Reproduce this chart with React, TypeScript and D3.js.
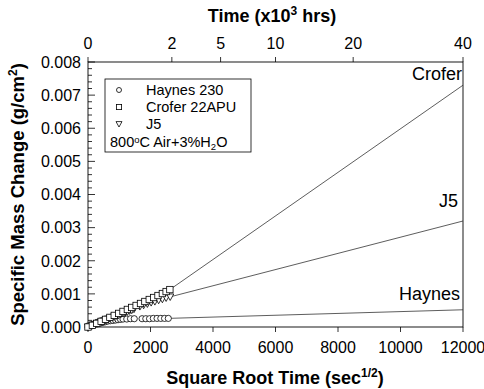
import React from "react";
import * as d3 from "d3";

// ---- data (x in sec^1/2, y in g/cm^2) ----
const haynesX = [0, 80, 160, 240, 320, 400, 480, 560, 640, 720, 800, 880, 960, 1040, 1120, 1240, 1360, 1480, 1730, 1850, 1970, 2090, 2210, 2330, 2450, 2570];
const haynesY = [0, 0.00002, 0.00005, 0.00008, 0.0001, 0.00012, 0.00014, 0.00016, 0.00018, 0.00019, 0.0002, 0.00021, 0.00022, 0.00023, 0.00024, 0.00024, 0.00025, 0.00025, 0.00025, 0.00025, 0.00025, 0.00026, 0.00026, 0.00026, 0.00026, 0.00026];
const croferX = [0, 140, 280, 420, 560, 700, 840, 980, 1120, 1260, 1400, 1540, 1680, 1820, 1960, 2100, 2240, 2380, 2500, 2620];
const croferY = [0, 0.00005, 0.00011, 0.00017, 0.00023, 0.00029, 0.00035, 0.00041, 0.00047, 0.00053, 0.00059, 0.00065, 0.00071, 0.00077, 0.00083, 0.00089, 0.00095, 0.00101, 0.00107, 0.00113];
const j5X = [0, 70, 140, 210, 280, 350, 420, 490, 560, 630, 700, 770, 840, 910, 980, 1050, 1120, 1190, 1260, 1330, 1400, 1470, 1660, 1780, 1900, 2020, 2140, 2260, 2380, 2500, 2630];
const j5Y = [0, 0.00003, 0.00006, 0.00008, 0.00011, 0.00014, 0.00016, 0.00019, 0.00021, 0.00024, 0.00026, 0.00029, 0.00031, 0.00034, 0.00036, 0.00039, 0.00041, 0.00044, 0.00046, 0.00049, 0.00051, 0.00054, 0.00062, 0.00066, 0.0007, 0.00074, 0.00077, 0.00081, 0.00084, 0.00088, 0.00091];

// fit-line end points: x and y at the start / end
const haynesFitX = [2570, 12000];
const haynesFitY = [0.00026, 0.00052];
const croferFitX = [2620, 12000];
const croferFitY = [0.00113, 0.0073];
const j5FitX = [2630, 12000];
const j5FitY = [0.00091, 0.0032];

const xTicks = [0, 2000, 4000, 6000, 8000, 10000, 12000];
const yTicks = [0, 0.001, 0.002, 0.003, 0.004, 0.005, 0.006, 0.007, 0.008];
const topTicksHrs = [0, 2, 5, 10, 20, 40]; // x10^3 hrs

const W = 484, H = 389;
const M = { left: 88, right: 463, top: 62, bottom: 327 };
const FONT = "'Liberation Sans', Arial, sans-serif";

export default function App() {
  const x = d3.scaleLinear().domain([0, 12000]).range([M.left, M.right]);
  const y = d3.scaleLinear().domain([0, 0.008]).range([M.bottom, M.top]);
  const hrsToX = (h: number) => x(Math.sqrt(h * 1000 * 3600));
  const minorY = d3.range(0, 41).map(i => i * 0.0002);
  const line = d3.line<[number, number]>().x(d => x(d[0])).y(d => y(d[1]));
  const fit = (xs: number[], ys: number[]) => line(xs.map((v, i) => [v, ys[i]] as [number, number])) || "";

  const circle = (cx: number, cy: number, k: string, r = 3.1) => (
    <circle key={k} cx={cx} cy={cy} r={r} fill="white" stroke="black" strokeWidth={0.8} />
  );
  const square = (cx: number, cy: number, k: string, s = 3.2) => (
    <rect key={k} x={cx - s} y={cy - s} width={2 * s} height={2 * s} fill="white" stroke="black" strokeWidth={0.8} />
  );
  const tri = (cx: number, cy: number, k: string, s = 3.6) => (
    <path key={k} d={`M${cx - s},${cy - s * 0.8} L${cx + s},${cy - s * 0.8} L${cx},${cy + s} Z`} fill="white" stroke="black" strokeWidth={0.8} />
  );

  return (
    <svg width={W} height={H} style={{ position: "absolute", left: 0, top: 0, background: "white" }} fontFamily={FONT}>
      <rect x={0} y={0} width={W} height={H} fill="white" />
      {/* frame */}
      <rect x={M.left} y={M.top} width={M.right - M.left} height={M.bottom - M.top} fill="none" stroke="black" strokeWidth={0.9} />
      {/* left ticks (inward) */}
      {minorY.map((v, i) => (
        <line key={"my" + i} x1={M.left} x2={M.left + (i % 5 === 0 ? 7 : 4)} y1={y(v)} y2={y(v)} stroke="black" strokeWidth={0.8} />
      ))}
      {yTicks.map((v, i) => (
        <text key={"yt" + i} x={M.left - 7} y={y(v)} dy="0.36em" textAnchor="end" fontSize={16}>{v.toFixed(3)}</text>
      ))}
      {/* bottom ticks (outward) */}
      {xTicks.map((v, i) => (
        <g key={"xt" + i}>
          <line x1={x(v)} x2={x(v)} y1={M.bottom} y2={M.bottom + 5} stroke="black" strokeWidth={0.8} />
          <text x={x(v)} y={M.bottom + 26} textAnchor="middle" fontSize={16}>{v}</text>
        </g>
      ))}
      {/* top ticks (outward) */}
      {topTicksHrs.map((h, i) => (
        <g key={"tt" + i}>
          <line x1={hrsToX(h)} x2={hrsToX(h)} y1={M.top} y2={M.top - 5} stroke="black" strokeWidth={0.8} />
          <text x={hrsToX(h)} y={M.top - 13} textAnchor="middle" fontSize={16}>{h}</text>
        </g>
      ))}
      {/* titles */}
      <text x={272} y={21.5} textAnchor="middle" fontSize={18} fontWeight="bold">
        Time (x10<tspan dy={-7} fontSize={12}>3</tspan><tspan dy={7}> hrs)</tspan>
      </text>
      <text x={275} y={384} textAnchor="middle" fontSize={18} fontWeight="bold">
        Square Root Time (sec<tspan dy={-7} fontSize={12}>1/2</tspan><tspan dy={7}>)</tspan>
      </text>
      <text transform={`translate(24,${(M.top + M.bottom) / 2}) rotate(-90)`} textAnchor="middle" fontSize={18.5} fontWeight="bold">
        Specific Mass Change (g/cm<tspan dy={-7} fontSize={12}>2</tspan><tspan dy={7}>)</tspan>
      </text>
      {/* fit lines */}
      <path d={fit(haynesFitX, haynesFitY)} fill="none" stroke="#333" strokeWidth={0.8} />
      <path d={fit(croferFitX, croferFitY)} fill="none" stroke="#333" strokeWidth={0.8} />
      <path d={fit(j5FitX, j5FitY)} fill="none" stroke="#333" strokeWidth={0.8} />
      {/* markers */}
      {haynesX.map((v, i) => circle(x(v), y(haynesY[i]), "h" + i))}
      {j5X.map((v, i) => tri(x(v), y(j5Y[i]), "j" + i))}
      {croferX.map((v, i) => square(x(v), y(croferY[i]), "c" + i))}
      {/* line labels */}
      <text x={M.right - 1} y={79.5} textAnchor="end" fontSize={18}>Crofer</text>
      <text x={M.right - 5} y={207} textAnchor="end" fontSize={18}>J5</text>
      <text x={M.right - 3} y={299.5} textAnchor="end" fontSize={18}>Haynes</text>
      {/* legend */}
      <rect x={105} y={79} width={146} height={73} fill="white" stroke="black" strokeWidth={0.8} />
      {circle(119, 90, "lc", 2.5)}
      {square(119, 107, "ls", 2.6)}
      {tri(119, 124, "lt", 3)}
      <text x={146} y={90} dy="0.36em" fontSize={14.5}>Haynes 230</text>
      <text x={146} y={107} dy="0.36em" fontSize={14.5}>Crofer 22APU</text>
      <text x={146} y={124} dy="0.36em" fontSize={14.5}>J5</text>
      <text x={110} y={142} dy="0.36em" fontSize={14.5}>800<tspan dy={-4} fontSize={9.5}>o</tspan><tspan dy={4}>C Air+3%H</tspan><tspan dy={3} fontSize={9.5}>2</tspan><tspan dy={-3}>O</tspan></text>
    </svg>
  );
}
